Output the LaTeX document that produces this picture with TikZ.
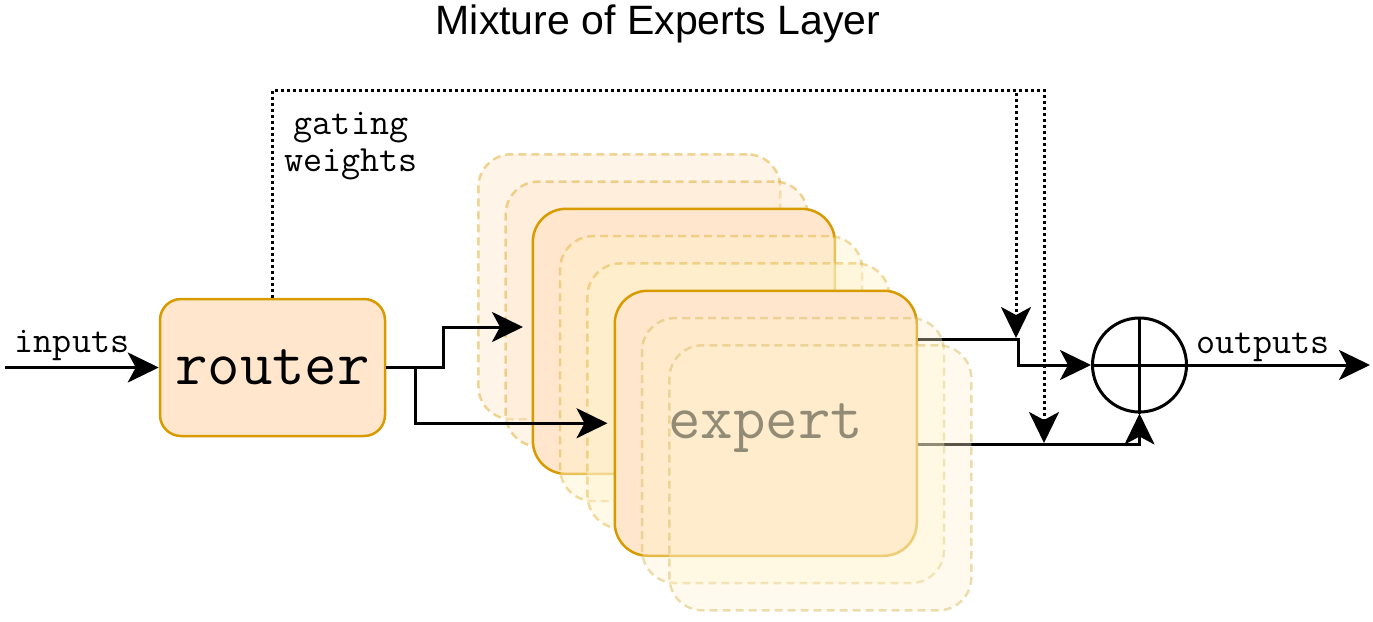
\documentclass[tikz,border=0pt]{standalone}
\usepackage{fontspec}
\setmainfont{Liberation Sans}
\usetikzlibrary{arrows.meta,calc}
\definecolor{ofill}{HTML}{FFE6CC}
\definecolor{ostroke}{HTML}{D79B00}
\definecolor{yfill}{HTML}{FFF2CC}
\definecolor{ystroke}{HTML}{D6B656}
\tikzset{
  expbox/.style={rounded corners=33pt, minimum width=302pt, minimum height=265pt, inner sep=0pt, anchor=north west, line width=2.5pt},
  solidexp/.style={expbox, draw=ostroke, fill=ofill},
  backexp/.style={expbox, fill=ofill, fill opacity=0.45, draw=ostroke, draw opacity=0.4, dash pattern=on 8pt off 5pt},
  midexp/.style={expbox, fill=yfill, fill opacity=0.45, draw=ostroke, draw opacity=0.35, dash pattern=on 8pt off 5pt},
  frontexp/.style={expbox, fill=yfill, fill opacity=0.35, draw=ystroke, draw opacity=0.45, dash pattern=on 8pt off 5pt},
  conn/.style={line width=3pt, -{Stealth[length=31pt,width=30pt,inset=8pt]}},
  gate/.style={conn, dash pattern=on 3pt off 3pt},
  lbl/.style={font=\ttfamily\fontsize{37}{37}\selectfont, inner sep=0pt, anchor=base},
  bigtxt/.style={font=\ttfamily\fontsize{63}{63}\selectfont},
}
\begin{document}
\begin{tikzpicture}[x=1pt, y=-1pt]
\useasboundingbox (0,0) rectangle (1373,621);

% title
\node[font=\fontsize{41}{41}\selectfont, inner sep=0pt, anchor=base] (title) at (658,34) {Mixture of Experts Layer};

% router
\node[draw=ostroke, fill=ofill, line width=2.5pt, rounded corners=21pt, minimum width=225pt, minimum height=137pt, inner sep=0pt, bigtxt] (router) at (272.5,367.5) {router};

% experts stack (back to front)
\node[backexp] (e1) at (477,153) {};
\node[backexp] (e2) at (504.3,180.3) {};
\node[solidexp] (e3) at (531.6,207.6) {};
\node[midexp] (e4) at (558.9,234.9) {};
\node[midexp] (e5) at (586.2,262.2) {};
\node[solidexp, bigtxt, text height=40pt, text depth=9pt] (e6) at (613.5,289.5) {expert};

% inputs
\coordinate (in) at (5,367.5);
\draw[conn] (in) -- (router.west);
\node[lbl] (inlbl) at (72,352) {inputs};

% router to experts
\coordinate (a1) at (523,327);
\draw[conn] (router.east) -- ++(57,0) |- (a1);
\draw[conn, shorten >=6pt] (router.east) -- ++(29,0) |- (e6.west);

% sum node
\node[draw, circle, line width=3pt, minimum size=94pt, inner sep=0pt] (sum) at (1139.5,365) {};
\draw[line width=3pt] (sum.north) -- (sum.south) (sum.west) -- (sum.east);

% expert outputs
\coordinate (o1) at ([yshift=-50pt]e6.north east);
\coordinate (o2) at ([yshift=-155pt]e6.north east);
\draw[conn] (o1) -- ++(100,0) |- (sum.west);
\draw[conn] (o2) -| (sum.south);

% front translucent experts
\node[frontexp] (e7) at (640.8,316.8) {};
\node[frontexp] (e8) at (668.1,344.1) {};

% gating weights
\coordinate (g1) at (1016,90);
\coordinate (g1e) at (1016,338);
\coordinate (g2) at (1044,90);
\coordinate (g2e) at (1044,443);
\draw[gate] (router.north) |- (g2) -- (g2e);
\draw[gate] (router.north) |- (g1) -- (g1e);
\node[lbl, anchor=center, align=center] (glbl) at (351,146) {gating\\weights};

% output
\coordinate (out) at (1370,365);
\draw[conn] (sum.east) -- (out);
\node[lbl] (outlbl) at (1263,353) {outputs};
\end{tikzpicture}
\end{document}
